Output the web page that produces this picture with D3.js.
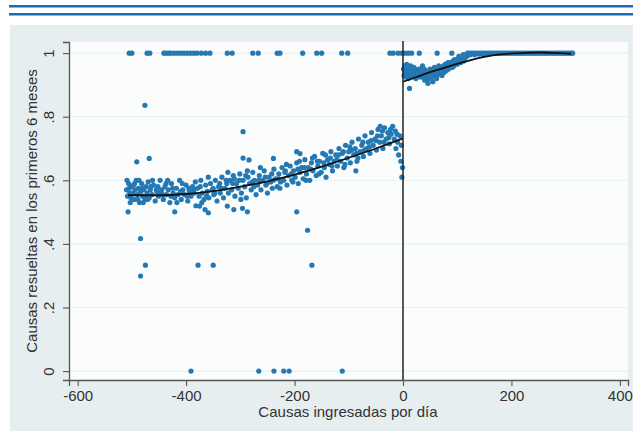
<!DOCTYPE html>
<html><head><meta charset="utf-8">
<script src="https://cdn.jsdelivr.net/npm/d3@7"></script>
<style>html,body{margin:0;padding:0;background:#fff;}svg{display:block;font-family:"Liberation Sans",Arial,sans-serif;}</style>
</head><body>
<svg id="c" width="633" height="431"></svg>
<script>
// ---- data ----
const xTicks = [-600, -400, -200, 0, 200, 400];
const yTicks = [0, 0.2, 0.4, 0.6, 0.8, 1];
const yTickLabels = ["0", ".2", ".4", ".6", ".8", "1"];
const xTitle = "Causas ingresadas por día";
const yTitle = "Causas resueltas en los primeros 6 meses";

// left of cutoff: main cloud
const leftCloud = [
[-510,0.57],[-508,0.55],[-506,0.59],[-504,0.56],[-502,0.545],[-500,0.58],[-498,0.56],[-496,0.54],[-494,0.57],[-492,0.60],
[-490,0.555],[-488,0.575],[-486,0.53],[-484,0.565],[-482,0.59],[-480,0.55],[-478,0.57],[-476,0.54],[-474,0.58],[-472,0.56],
[-470,0.595],[-468,0.545],[-466,0.57],[-463,0.555],[-460,0.585],[-457,0.535],[-454,0.565],[-451,0.55],[-448,0.6],[-445,0.57],
[-442,0.54],[-439,0.58],[-436,0.555],[-433,0.57],[-430,0.53],[-427,0.59],[-424,0.56],[-421,0.545],[-418,0.575],
[-415,0.555],[-412,0.6],[-409,0.54],[-406,0.57],[-403,0.555],[-400,0.585],[-397,0.535],[-394,0.565],[-391,0.55],[-388,0.58],
[-385,0.56],[-382,0.52],[-379,0.575],[-376,0.55],[-373,0.6],[-370,0.56],[-367,0.54],[-364,0.585],[-361,0.565],[-358,0.545],
[-355,0.59],[-352,0.57],[-349,0.555],[-346,0.6],[-343,0.535],[-340,0.58],[-337,0.56],[-334,0.61],[-331,0.545],[-328,0.575],
[-325,0.59],[-322,0.56],
[-319,0.6],[-316,0.57],[-313,0.615],[-310,0.55],[-307,0.59],[-304,0.575],[-301,0.62],[-298,0.56],[-295,0.6],[-292,0.58],
[-289,0.545],[-286,0.61],[-283,0.59],[-280,0.57],[-277,0.625],[-274,0.6],[-271,0.555],[-268,0.585],[-265,0.615],[-262,0.57],
[-259,0.6],[-256,0.63],[-253,0.585],[-250,0.56],[-247,0.61],[-244,0.595],[-241,0.575],[-238,0.635],[-235,0.605],[-232,0.58],
[-229,0.62],[-226,0.595],[-223,0.64],
[-220,0.6],[-217,0.63],[-214,0.585],[-211,0.615],[-208,0.645],[-205,0.6],[-202,0.63],[-199,0.61],[-196,0.655],[-193,0.59],
[-190,0.625],[-187,0.64],[-184,0.605],[-181,0.665],[-178,0.62],[-175,0.64],[-172,0.6],[-169,0.655],[-166,0.63],[-163,0.675],
[-160,0.615],[-157,0.645],[-154,0.66],[-151,0.625],[-148,0.685],[-145,0.64],[-142,0.61],[-139,0.665],[-136,0.65],[-133,0.69],
[-130,0.63],[-127,0.66],[-124,0.68],[-121,0.645],
[-118,0.7],[-115,0.66],[-112,0.685],[-109,0.64],[-106,0.71],[-103,0.67],[-100,0.69],[-97,0.655],[-94,0.72],[-91,0.68],
[-88,0.7],[-85,0.66],[-82,0.73],[-79,0.69],[-76,0.71],[-73,0.675],[-70,0.74],[-67,0.7],[-64,0.72],[-61,0.685],
[-58,0.75],[-55,0.71],[-52,0.73],[-49,0.695],[-46,0.76],[-43,0.72],[-40,0.74],[-37,0.7],[-34,0.765],[-31,0.73],
[-28,0.75],[-25,0.715],[-22,0.745],[-19,0.77],[-16,0.73],[-13,0.7],[-10,0.72],[-8,0.68],[-6,0.74],[-4,0.66],
[-3,0.71],[-2,0.61],[-1,0.64],
[-505,0.575],[-497,0.585],[-489,0.54],[-481,0.575],[-473,0.55],[-465,0.58],[-455,0.57],[-447,0.56],[-437,0.59],[-428,0.55],
[-410,0.565],[-398,0.55],[-386,0.57],[-374,0.58],[-362,0.55],[-350,0.575],[-338,0.59],[-326,0.6],[-314,0.59],[-302,0.6],
[-290,0.615],[-278,0.595],[-266,0.6],[-254,0.61],[-242,0.62],[-230,0.605],[-218,0.625],[-206,0.62],[-194,0.635],[-182,0.64],
[-170,0.635],[-158,0.66],[-146,0.655],[-134,0.67],[-122,0.665],[-110,0.69],[-98,0.705],[-86,0.685],[-74,0.72],[-62,0.705],
[-50,0.725],[-38,0.755],[-26,0.735],[-14,0.755],
[-509,0.6],[-503,0.53],[-495,0.59],[-487,0.6],[-479,0.53],[-471,0.54],[-462,0.6],[-452,0.58],[-443,0.555],[-434,0.6],
[-425,0.575],[-417,0.53],[-407,0.59],[-395,0.575],[-383,0.595],[-371,0.53],[-359,0.61],[-347,0.56],[-335,0.575],[-323,0.625],
[-311,0.605],[-299,0.54],[-287,0.63],[-275,0.58],[-263,0.64],[-251,0.59],[-239,0.6],[-227,0.575],[-215,0.65],[-203,0.595],
[-191,0.66],[-179,0.6],[-167,0.67],[-155,0.62],[-143,0.68],[-131,0.645],[-119,0.68],[-107,0.65],[-95,0.695],[-83,0.67],
[-71,0.695],[-59,0.725],[-47,0.74],[-35,0.72],[-23,0.76],[-11,0.745]
];
// left of cutoff: scattered points away from the cloud
const leftOutliers = [
[-476,0.836],[-491,0.658],[-468,0.669],[-295,0.753],[-295,0.67],[-284,0.664],[-507,0.501],[-421,0.501],[-484,0.417],
[-475,0.333],[-484,0.299],[-378,0.333],[-350,0.333],[-196,0.501],[-176,0.443],[-168,0.333],[-324,0.519],[-312,0.508],
[-296,0.512],[-287,0.501],[-375,0.519],[-365,0.508],[-359,0.498],[-239,0.669],[-196,0.69],[-190,0.684],[-87,0.63],[-42,0.77],
[-391,0],[-266,0],[-238,0],[-220,0],[-210,0],[-112,0]
];
// x positions of points sitting at 1
const atOneX = [-505,-500,-472,-467,-441,-437,-432,-428,-422,-416,-410,-404,-398,-392,-386,-380,-372,-364,-356,
-324,-315,-277,-267,-232,-227,-185,-159,-150,-113,-102,-24,-18,-9,-2,
4,10,16,30,63,90,
122,126,130,134,138,142,146,150,154,158,162,166,170,174,178,182,186,190,194,198,202,206,210,214,218,222,226,230,
234,238,242,246,250,254,258,262,266,270,274,278,282,286,290,294,298,302,306,310,313];
// right of cutoff: rising cloud
const rightCloud = [
[1,0.95],[2,0.93],[3,0.96],[4,0.94],[5,0.925],[6,0.955],[8,0.935],[9,0.945],[10,0.92],[12,0.889],[13,0.95],[15,0.93],
[17,0.94],[18,0.925],[20,0.955],[22,0.935],[24,0.92],[26,0.945],[28,0.93],[30,0.95],[32,0.925],[34,0.94],[36,0.96],
[38,0.93],[40,0.915],[42,0.945],[44,0.925],[46,0.905],[48,0.935],[50,0.95],[52,0.92],[54,0.94],[56,0.93],[58,0.955],
[60,0.935],[62,0.92],[64,0.945],[66,0.96],[68,0.935],[70,0.95],[72,0.93],[74,0.955],[76,0.94],[78,0.965],[80,0.945],
[82,0.96],[84,0.95],[86,0.97],[88,0.955],[90,0.965],[92,0.975],[94,0.96],[96,0.97],[98,0.98],[100,0.965],[102,0.975],
[104,0.985],[106,0.97],[108,0.98],[110,0.99],[112,0.975],[114,0.985],[116,0.995],[118,0.99],[120,0.995],[124,0.995],
[132,0.995],[140,0.997],[148,0.995],[160,0.998],
[7,0.965],[11,0.94],[14,0.96],[19,0.945],[23,0.95],[27,0.935],[31,0.94],[35,0.925],[39,0.95],[43,0.935],[47,0.92],
[51,0.94],[55,0.91],[59,0.945],[63,0.93],[67,0.95],[71,0.94],[75,0.96],[79,0.95],[83,0.97],[87,0.96],[91,0.955],
[95,0.98],[99,0.975],[103,0.99],[107,0.985],[111,0.995],[115,0.99],[119,1]
];
// fitted curves
const leftFit = [[-507,0.553],[-450,0.553],[-400,0.557],[-350,0.566],[-300,0.58],[-250,0.597],[-200,0.618],[-150,0.643],[-100,0.671],[-50,0.70],[0,0.732]];
const rightFit = [[0,0.91],[25,0.925],[50,0.94],[75,0.953],[100,0.966],[125,0.978],[150,0.988],[175,0.995],[200,0.999],[225,1.001],[250,1.002],[275,1.001],[300,0.999],[310,0.998]];

// ---- drawing ----
const svg = d3.select("#c");
const W = 633, H = 431;
const x = d3.scaleLinear().domain([-616, 415]).range([69, 628]);
const y = d3.scaleLinear().domain([-0.028, 1.035]).range([380, 42]);

// header rules
svg.append("rect").attr("x",9).attr("y",5).attr("width",W-9).attr("height",2.5).attr("fill","#1b6db1");
svg.append("rect").attr("x",9).attr("y",13).attr("width",W-9).attr("height",2.5).attr("fill","#1b6db1");
// outer panel
svg.append("rect").attr("x",10).attr("y",25).attr("width",W-10).attr("height",H-25).attr("fill","#e7eef0");
// plot region
svg.append("rect").attr("x",69).attr("y",42).attr("width",628-69).attr("height",380-42).attr("fill","#fbfcfc");

// grid
svg.append("g").selectAll("line").data(yTicks).join("line")
  .attr("x1",69).attr("x2",628).attr("y1",d=>y(d)).attr("y2",d=>y(d))
  .attr("stroke","#ebf0f1").attr("stroke-width",1.2);

// points
const dotColor = "#2479b4";
const allPts = leftCloud.concat(leftOutliers, rightCloud, atOneX.map(v=>[v,1]));
svg.append("g").selectAll("circle").data(allPts).join("circle")
  .attr("cx",d=>x(d[0])).attr("cy",d=>y(d[1])).attr("r",2.6).attr("fill",dotColor);

// fits
const line = d3.line().x(d=>x(d[0])).y(d=>y(d[1])).curve(d3.curveMonotoneX);
svg.append("path").attr("d",line(leftFit)).attr("fill","none").attr("stroke","#111").attr("stroke-width",1.8);
svg.append("path").attr("d",line(rightFit)).attr("fill","none").attr("stroke","#111").attr("stroke-width",1.8);

// cutoff line
svg.append("line").attr("x1",x(0)).attr("x2",x(0)).attr("y1",41).attr("y2",380)
  .attr("stroke","#222").attr("stroke-width",1.5);

// axes
const gx = svg.append("g").attr("transform","translate(0,380)")
  .call(d3.axisBottom(x).tickValues(xTicks).tickSize(6).tickPadding(3).tickFormat(d => String(d)));
const gy = svg.append("g").attr("transform","translate(69,0)")
  .call(d3.axisLeft(y).tickValues(yTicks).tickSize(6).tickPadding(3).tickFormat((d,i) => yTickLabels[i]));
[gx,gy].forEach(g=>{
  g.select(".domain").attr("stroke","#555").attr("stroke-width",1.3);
  g.selectAll(".tick line").attr("stroke","#555").attr("stroke-width",1.1);
  g.selectAll("text").attr("fill","#333").style("font-size","15px").style("font-family","'Liberation Sans',Arial,sans-serif");
});
gx.selectAll(".tick text").attr("dy","0.8em");
gy.selectAll(".tick text").attr("text-anchor","middle").attr("dy","0")
  .attr("transform","translate(-15,0) rotate(-90)")
  .attr("x",0).attr("y",0);

// titles
svg.append("text").attr("x",348).attr("y",417).attr("text-anchor","middle")
  .style("font-size","15px").attr("fill","#333").text(xTitle);
svg.append("text").attr("transform","translate(37,211) rotate(-90)").attr("text-anchor","middle")
  .style("font-size","15px").attr("fill","#333").text(yTitle);
</script>
</body></html>
